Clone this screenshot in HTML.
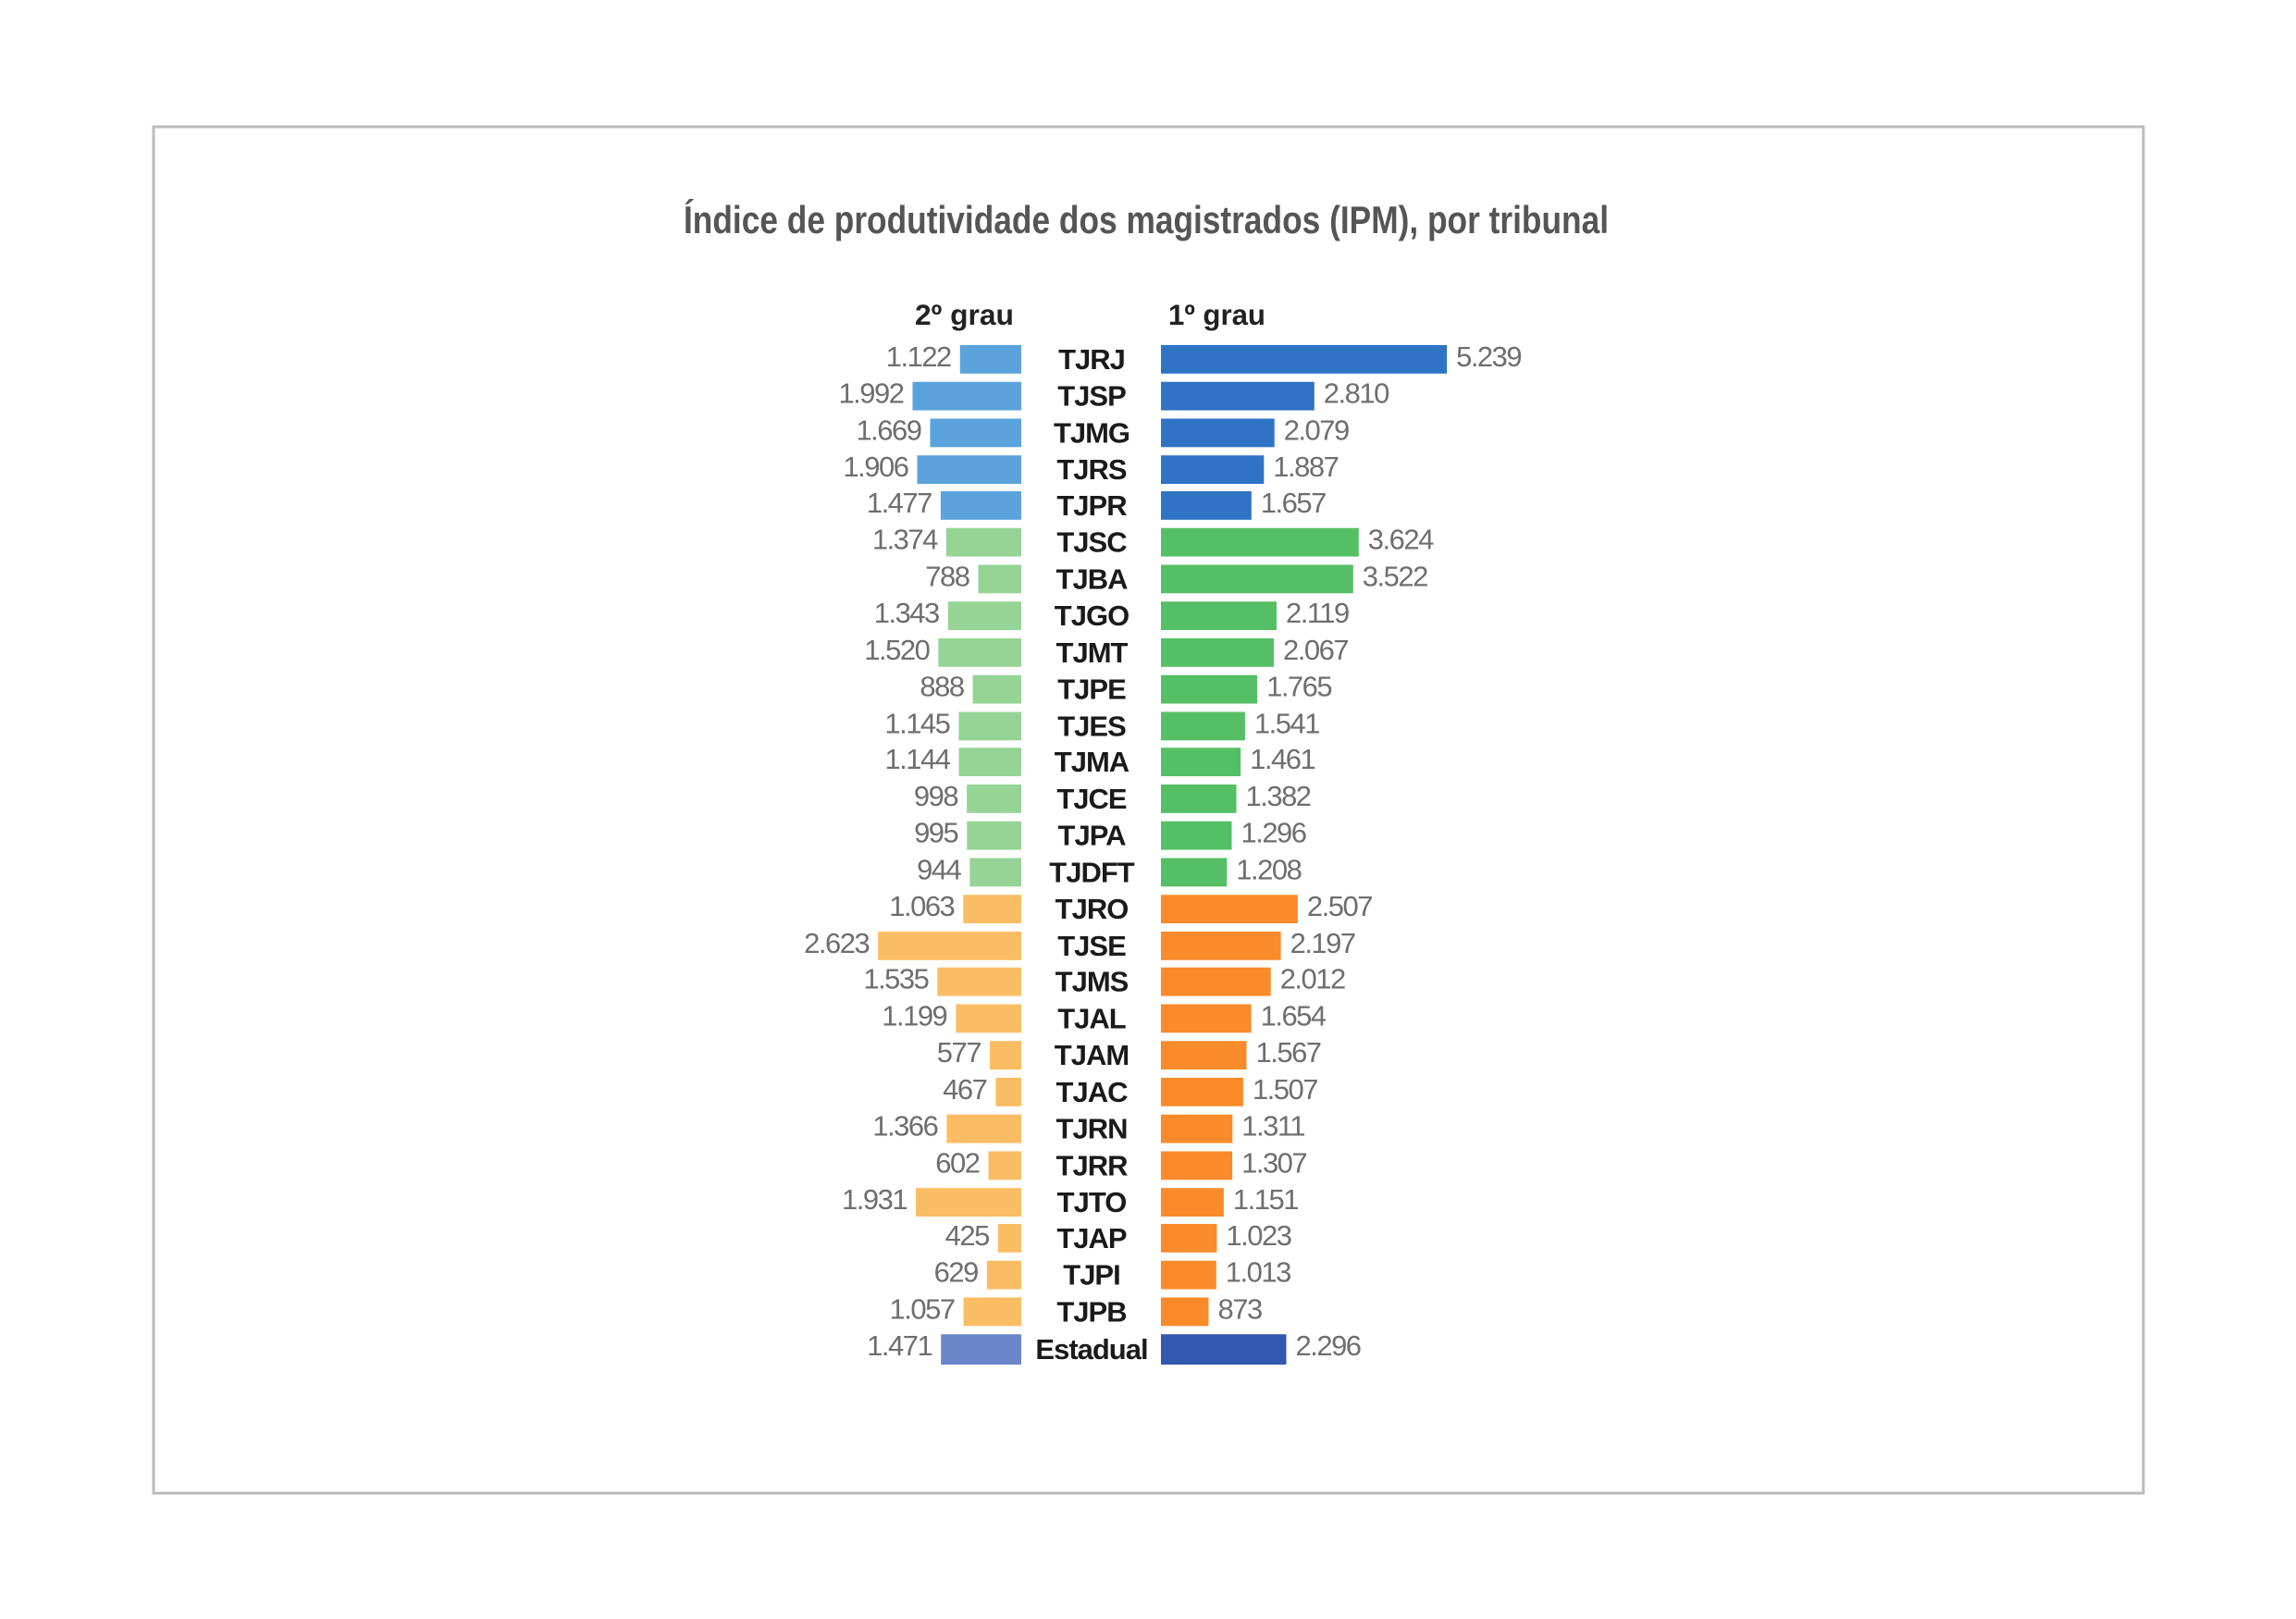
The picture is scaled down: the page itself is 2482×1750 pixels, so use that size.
<!DOCTYPE html>
<html><head><meta charset="utf-8"><style>
html,body{margin:0;padding:0;background:#fff;width:2482px;height:1750px;overflow:hidden}
svg{display:block}
.v{font-family:"Liberation Sans",sans-serif;font-size:31px;fill:#6e6e6e;letter-spacing:-1.5px}
.l{font-family:"Liberation Sans",sans-serif;font-size:31px;font-weight:bold;fill:#1a1a1a;text-anchor:middle;letter-spacing:-1px}
.e{text-anchor:end}
</style></head><body>
<svg width="2482" height="1750" viewBox="0 0 2482 1750" xmlns="http://www.w3.org/2000/svg">
<rect x="0" y="0" width="2482" height="1750" fill="#fff"/>
<rect x="166" y="137" width="2151" height="1477" fill="none" stroke="#bbb" stroke-width="3"/>
<g transform="translate(-5,0.36) scale(1,0.9937)">
<text x="1244" y="253" text-anchor="middle" textLength="1000" lengthAdjust="spacingAndGlyphs" font-family="Liberation Sans, sans-serif" font-size="42" font-weight="bold" fill="#555">Índice de produtividade dos magistrados (IPM), por tribunal</text>
<text x="1101" y="353" text-anchor="end" textLength="107" lengthAdjust="spacingAndGlyphs" font-family="Liberation Sans, sans-serif" font-size="32" font-weight="bold" fill="#222">2º grau</text>
<text x="1268" y="353" textLength="105" lengthAdjust="spacingAndGlyphs" font-family="Liberation Sans, sans-serif" font-size="32" font-weight="bold" fill="#222">1º grau</text>

<g fill="#5aa3dc">
<rect x="1042.8" y="375" width="66.2" height="31"/>
<rect x="991.5" y="415" width="117.5" height="31"/>
<rect x="1010.5" y="455" width="98.5" height="31"/>
<rect x="996.5" y="495" width="112.5" height="31"/>
<rect x="1021.9" y="534" width="87.1" height="31"/>
</g>
<g fill="#2e73c4">
<rect x="1260" y="375" width="309.1" height="31"/>
<rect x="1260" y="415" width="165.8" height="31"/>
<rect x="1260" y="455" width="122.7" height="31"/>
<rect x="1260" y="495" width="111.3" height="31"/>
<rect x="1260" y="534" width="97.8" height="31"/>
</g>
<g fill="#95d495">
<rect x="1027.9" y="574" width="81.1" height="31"/>
<rect x="1062.5" y="614" width="46.5" height="31"/>
<rect x="1029.8" y="654" width="79.2" height="31"/>
<rect x="1019.3" y="694" width="89.7" height="31"/>
<rect x="1056.6" y="734" width="52.4" height="31"/>
<rect x="1041.4" y="774" width="67.6" height="31"/>
<rect x="1041.5" y="813" width="67.5" height="31"/>
<rect x="1050.1" y="853" width="58.9" height="31"/>
<rect x="1050.3" y="893" width="58.7" height="31"/>
<rect x="1053.3" y="933" width="55.7" height="31"/>
</g>
<g fill="#55bf65">
<rect x="1260" y="574" width="213.8" height="31"/>
<rect x="1260" y="614" width="207.8" height="31"/>
<rect x="1260" y="654" width="125" height="31"/>
<rect x="1260" y="694" width="122" height="31"/>
<rect x="1260" y="734" width="104.1" height="31"/>
<rect x="1260" y="774" width="90.9" height="31"/>
<rect x="1260" y="813" width="86.2" height="31"/>
<rect x="1260" y="853" width="81.5" height="31"/>
<rect x="1260" y="893" width="76.5" height="31"/>
<rect x="1260" y="933" width="71.3" height="31"/>
</g>
<g fill="#fbbd63">
<rect x="1046.3" y="973" width="62.7" height="31"/>
<rect x="954.2" y="1013" width="154.8" height="31"/>
<rect x="1018.4" y="1052" width="90.6" height="31"/>
<rect x="1038.3" y="1092" width="70.7" height="31"/>
<rect x="1075" y="1132" width="34" height="31"/>
<rect x="1081.4" y="1172" width="27.6" height="31"/>
<rect x="1028.4" y="1212" width="80.6" height="31"/>
<rect x="1073.5" y="1252" width="35.5" height="31"/>
<rect x="995.1" y="1292" width="113.9" height="31"/>
<rect x="1083.9" y="1331" width="25.1" height="31"/>
<rect x="1071.9" y="1371" width="37.1" height="31"/>
<rect x="1046.6" y="1411" width="62.4" height="31"/>
</g>
<g fill="#f98b2a">
<rect x="1260" y="973" width="147.9" height="31"/>
<rect x="1260" y="1013" width="129.6" height="31"/>
<rect x="1260" y="1052" width="118.7" height="31"/>
<rect x="1260" y="1092" width="97.6" height="31"/>
<rect x="1260" y="1132" width="92.5" height="31"/>
<rect x="1260" y="1172" width="88.9" height="31"/>
<rect x="1260" y="1212" width="77.3" height="31"/>
<rect x="1260" y="1252" width="77.1" height="31"/>
<rect x="1260" y="1292" width="67.9" height="31"/>
<rect x="1260" y="1331" width="60.4" height="31"/>
<rect x="1260" y="1371" width="59.8" height="31"/>
<rect x="1260" y="1411" width="51.5" height="31"/>
</g>
<rect x="1022.2" y="1451" width="86.8" height="33" fill="#6b86c9"/>
<rect x="1260" y="1451" width="135.5" height="33" fill="#3358b0"/>

<g class="l" transform="translate(0,-3)">
<text x="1185" y="404">TJRJ</text>
<text x="1185" y="444">TJSP</text>
<text x="1185" y="484">TJMG</text>
<text x="1185" y="524">TJRS</text>
<text x="1185" y="563">TJPR</text>
<text x="1185" y="603">TJSC</text>
<text x="1185" y="643">TJBA</text>
<text x="1185" y="683">TJGO</text>
<text x="1185" y="723">TJMT</text>
<text x="1185" y="763">TJPE</text>
<text x="1185" y="803">TJES</text>
<text x="1185" y="842">TJMA</text>
<text x="1185" y="882">TJCE</text>
<text x="1185" y="922">TJPA</text>
<text x="1185" y="962">TJDFT</text>
<text x="1185" y="1002">TJRO</text>
<text x="1185" y="1042">TJSE</text>
<text x="1185" y="1081">TJMS</text>
<text x="1185" y="1121">TJAL</text>
<text x="1185" y="1161">TJAM</text>
<text x="1185" y="1201">TJAC</text>
<text x="1185" y="1241">TJRN</text>
<text x="1185" y="1281">TJRR</text>
<text x="1185" y="1321">TJTO</text>
<text x="1185" y="1360">TJAP</text>
<text x="1185" y="1400">TJPI</text>
<text x="1185" y="1440">TJPB</text>
<text x="1185" y="1481">Estadual</text>
</g>

<g class="v e" transform="translate(0,-3)">
<text x="1032.8" y="401">1.122</text>
<text x="981.5" y="441">1.992</text>
<text x="1000.5" y="481">1.669</text>
<text x="986.5" y="521">1.906</text>
<text x="1011.9" y="560">1.477</text>
<text x="1017.9" y="600">1.374</text>
<text x="1052.5" y="640">788</text>
<text x="1019.8" y="680">1.343</text>
<text x="1009.3" y="720">1.520</text>
<text x="1046.6" y="760">888</text>
<text x="1031.4" y="800">1.145</text>
<text x="1031.5" y="839">1.144</text>
<text x="1040.1" y="879">998</text>
<text x="1040.3" y="919">995</text>
<text x="1043.3" y="959">944</text>
<text x="1036.3" y="999">1.063</text>
<text x="944.2" y="1039">2.623</text>
<text x="1008.4" y="1078">1.535</text>
<text x="1028.3" y="1118">1.199</text>
<text x="1065" y="1158">577</text>
<text x="1071.4" y="1198">467</text>
<text x="1018.4" y="1238">1.366</text>
<text x="1063.5" y="1278">602</text>
<text x="985.1" y="1318">1.931</text>
<text x="1073.9" y="1357">425</text>
<text x="1061.9" y="1397">629</text>
<text x="1036.6" y="1437">1.057</text>
<text x="1012.2" y="1477">1.471</text>
</g>
<g class="v" transform="translate(0,-3)">
<text x="1579.1" y="401">5.239</text>
<text x="1435.8" y="441">2.810</text>
<text x="1392.7" y="481">2.079</text>
<text x="1381.3" y="521">1.887</text>
<text x="1367.8" y="560">1.657</text>
<text x="1483.8" y="600">3.624</text>
<text x="1477.8" y="640">3.522</text>
<text x="1395" y="680">2.119</text>
<text x="1392" y="720">2.067</text>
<text x="1374.1" y="760">1.765</text>
<text x="1360.9" y="800">1.541</text>
<text x="1356.2" y="839">1.461</text>
<text x="1351.5" y="879">1.382</text>
<text x="1346.5" y="919">1.296</text>
<text x="1341.3" y="959">1.208</text>
<text x="1417.9" y="999">2.507</text>
<text x="1399.6" y="1039">2.197</text>
<text x="1388.7" y="1078">2.012</text>
<text x="1367.6" y="1118">1.654</text>
<text x="1362.5" y="1158">1.567</text>
<text x="1358.9" y="1198">1.507</text>
<text x="1347.3" y="1238">1.311</text>
<text x="1347.1" y="1278">1.307</text>
<text x="1337.9" y="1318">1.151</text>
<text x="1330.4" y="1357">1.023</text>
<text x="1329.8" y="1397">1.013</text>
<text x="1321.5" y="1437">873</text>
<text x="1405.5" y="1477">2.296</text>
</g>
</g>
</svg>
</body></html>
